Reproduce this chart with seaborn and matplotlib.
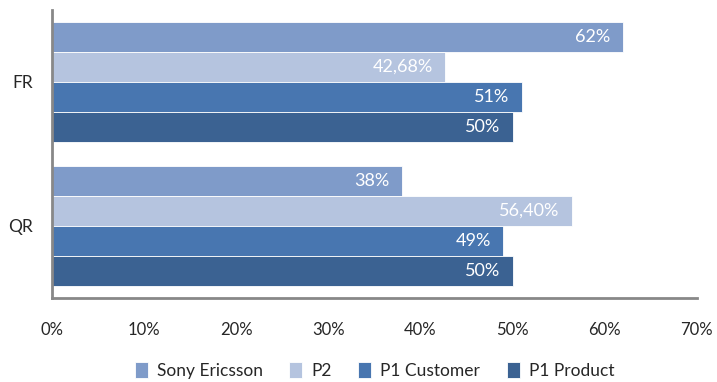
import matplotlib
matplotlib.use("Agg")
import matplotlib.pyplot as plt
import seaborn as sns
import pandas as pd

categories = ["FR", "QR"]
series = ["Sony Ericsson", "P2", "P1 Customer", "P1 Product"]
values_FR = [62, 42.68, 51, 50]
values_QR = [38, 56.40, 49, 50]
labels_FR = ["62%", "42,68%", "51%", "50%"]
labels_QR = ["38%", "56,40%", "49%", "50%"]
colors = ["#7f9bc9", "#b5c4df", "#4876b0", "#3b6292"]
xticks = [0, 10, 20, 30, 40, 50, 60, 70]

rows = []
for cat, vals in zip(categories, [values_FR, values_QR]):
    for s, v in zip(series, vals):
        rows.append({"cat": cat, "series": s, "value": v})
df = pd.DataFrame(rows)

sns.set_theme(style="white")
plt.rcParams["font.family"] = ["Lato", "DejaVu Sans"]

fig = plt.figure(figsize=(7.17, 3.82), dpi=100)
ax = fig.add_axes([0.0725, 0.22, 0.8995, 0.754])
sns.barplot(data=df, y="cat", x="value", hue="series", order=categories,
            hue_order=series, palette=colors, width=0.833, orient="h",
            saturation=1, edgecolor="white", linewidth=0.6, legend=True, ax=ax)

all_labels = {"Sony Ericsson": [labels_FR[0], labels_QR[0]],
              "P2": [labels_FR[1], labels_QR[1]],
              "P1 Customer": [labels_FR[2], labels_QR[2]],
              "P1 Product": [labels_FR[3], labels_QR[3]]}
for cont, s in zip(ax.containers, series):
    texts = ax.bar_label(cont, labels=all_labels[s], label_type="edge", padding=-9,
                         color="white", fontsize=13)
    for t in texts:
        t.set_ha("right")

ax.set_xlim(0, 70)
ax.set_ylim(1.5, -0.5)
ax.set_xticks(xticks)
ax.set_xticklabels([f"{v}%" for v in xticks], fontsize=12)
ax.tick_params(axis="y", labelsize=12.5, length=0, pad=14)
ax.tick_params(axis="x", length=0, pad=17)
ax.set_xlabel("")
ax.set_ylabel("")
for sp in ["top", "right"]:
    ax.spines[sp].set_visible(False)
for sp in ["left", "bottom"]:
    ax.spines[sp].set_color("#888888")
    ax.spines[sp].set_linewidth(2)

ax.legend(loc="lower center", bbox_to_anchor=(0.5, -0.335), ncol=4, frameon=False,
          fontsize=12.5, handlelength=0.75, handleheight=1.0, handletextpad=0.5,
          columnspacing=1.55)

fig.savefig("out.png", dpi=100)
